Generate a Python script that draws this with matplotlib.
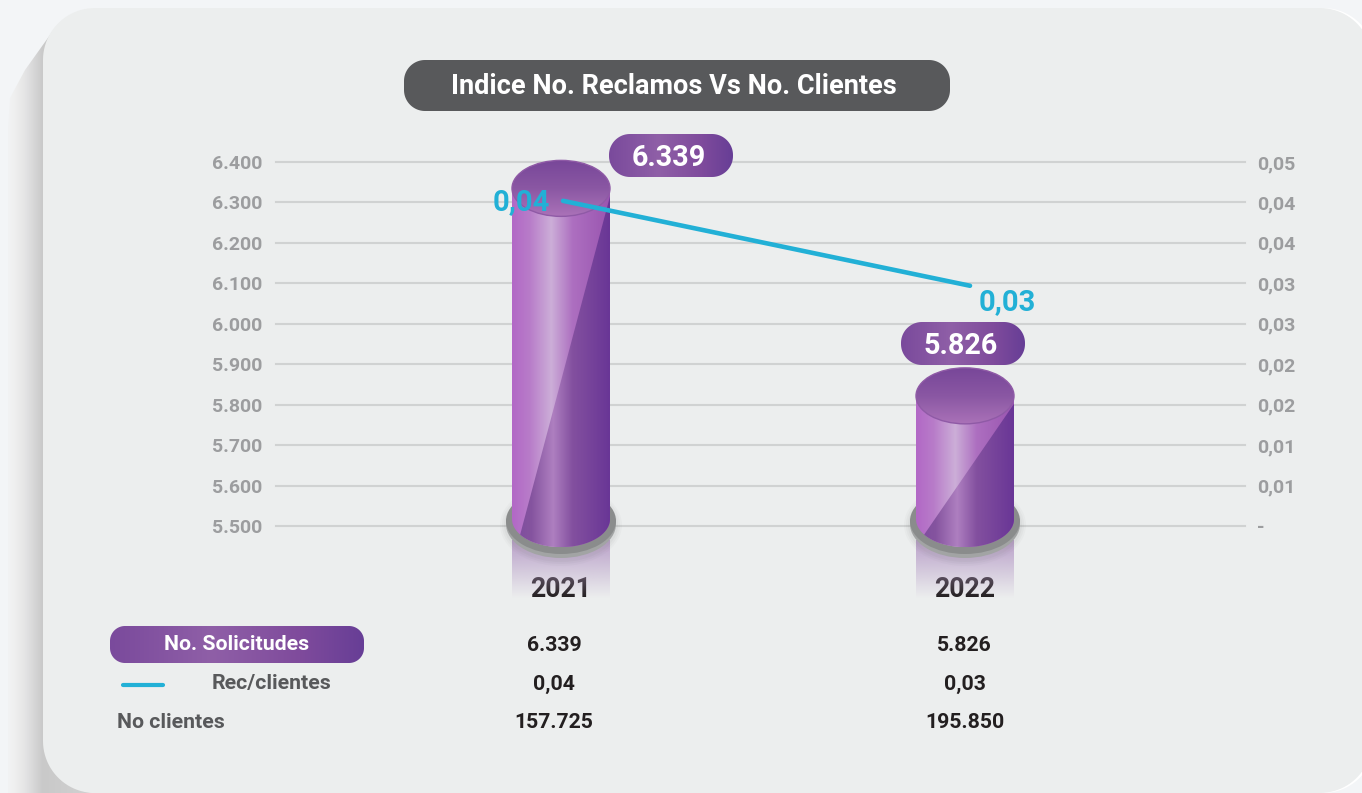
import numpy as np
import matplotlib
matplotlib.use("Agg")
import matplotlib.pyplot as plt
from matplotlib.patches import Ellipse, PathPatch
from matplotlib.path import Path
from matplotlib.colors import LinearSegmentedColormap, to_rgb

# ---------- data ----------
categories = ["2021", "2022"]
solicitudes = [6339, 5826]
rec_clientes = [0.0402, 0.0297]
no_clientes = [157725, 195850]
left_ticks = [5500, 5600, 5700, 5800, 5900, 6000, 6100, 6200, 6300, 6400]
right_ticks = [0, 0.005, 0.01, 0.015, 0.02, 0.025, 0.03, 0.035, 0.04, 0.045]
right_labels = ["-", "0,01", "0,01", "0,02", "0,02", "0,03", "0,03", "0,04", "0,04", "0,05"]
title = "Indice No. Reclamos Vs No. Clientes"
row_labels = ["No. Solicitudes", "Rec/clientes", "No clientes"]

# ---------- style ----------
W, H = 1362, 793
plt.rcParams["font.family"] = ["Roboto", "DejaVu Sans"]
plt.rcParams["font.weight"] = "bold"
BG, CARD = "#f3f5f7", "#eceeee"
GRID, TICK = "#d0d2d2", "#9c9d9f"
DARK, GREY, CYAN = "#231f20", "#58595b", "#22b0d6"
PX, PY = 404.0, 364.0 / 900.0   # pixels per x unit / per y unit


def thousands(v):
    return f"{v:,}".replace(",", ".")


def comma2(v):
    return f"{v:.2f}".replace(".", ",")


def hgrad(stops):
    cmap = LinearSegmentedColormap.from_list("g", stops)
    return cmap(np.linspace(0, 1, 256))[None, :, :3]


def vgrad(stops):
    cmap = LinearSegmentedColormap.from_list("g", stops)
    return cmap(np.linspace(0, 1, 256))[:, None, :3]


def rounded(x0, y0, x1, y1, r):
    """Closed rounded-rectangle path with true circular corners (y grows downward)."""
    pts = []
    for cx, cy, a0 in ((x1 - r, y0 + r, -90), (x1 - r, y1 - r, 0), (x0 + r, y1 - r, 90), (x0 + r, y0 + r, 180)):
        t = np.radians(np.linspace(a0, a0 + 90, 24))
        pts += list(zip(cx + r * np.cos(t), cy + r * np.sin(t)))
    pts.append(pts[0])
    return Path(pts, [Path.MOVETO] + [Path.LINETO] * (len(pts) - 2) + [Path.CLOSEPOLY])


fig = plt.figure(figsize=(W / 100, H / 100), dpi=100, facecolor=BG)


def pixel_axes(z):
    a = fig.add_axes([0, 0, 1, 1], zorder=z)
    a.set_xlim(0, W)
    a.set_ylim(H, 0)
    a.axis("off")
    a.patch.set_alpha(0)
    return a


# ---------- card background ----------
bg = pixel_axes(0)
shadow_path = Path([(55, 28), (25, 70), (10, 98), (8, 130), (8, 800), (110, 800), (110, 28), (55, 28)],
                   [Path.MOVETO, Path.LINETO, Path.LINETO, Path.LINETO,
                    Path.LINETO, Path.LINETO, Path.LINETO, Path.CLOSEPOLY])
sh = bg.imshow(hgrad([(0, "#f2f3f4"), (0.07, "#efefef"), (0.17, "#e4e4e5"), (0.34, "#c9c9c9"), (1, "#d4d4d4")]),
               extent=(8, 110, 800, 0), aspect="auto", zorder=1)
sp = PathPatch(shadow_path, transform=bg.transData, fc="none", ec="none")
bg.add_patch(sp)
sh.set_clip_path(sp)
bg.add_patch(PathPatch(rounded(46, 8, 1375, 793, 52), fc="white", ec="none", zorder=2))
bg.add_patch(PathPatch(rounded(43, 8, 1372, 793, 52), fc=CARD, ec="none", zorder=3))
bg.set_xlim(0, W)
bg.set_ylim(H, 0)

# ---------- main axes ----------
L, R, T, B = 276, 1245, 162, 526
pos = [L / W, 1 - B / H, (R - L) / W, (B - T) / H]
ax = fig.add_axes(pos, zorder=1)
ax.patch.set_alpha(0)
for s in ax.spines.values():
    s.set_visible(False)
xlim = ((L - 561) / PX, (R - 561) / PX)
ylim = (left_ticks[0], left_ticks[-1])
half = 49 / PX
ell_b = 28 / PY
cap_drop = 1.7 / PY
x_pos = np.arange(len(categories))
body_y0 = 5517

LIGHT = hgrad([(0, "#b268c6"), (0.18, "#b87cc9"), (0.40, "#ccaed8"), (0.62, "#ad6fc0"), (1, "#9a55b0")])
SHADE = hgrad([(0, "#7c4b9e"), (0.20, "#85549f"), (0.42, "#ae7fc0"), (0.62, "#83509f"), (1, "#693696")])
TOPG = vgrad([(0, "#784799"), (0.5, "#8a57a3"), (1, "#aa72b8")])

for i, v in zip(x_pos, solicitudes):
    xl, xr = i - half, i + half
    vt = v - cap_drop
    # reflection under the base
    rgba = np.zeros((128, 1, 4))
    rgba[..., :3] = to_rgb("#b9a0c9")
    rgba[..., 3] = np.linspace(1, 0, 128)[:, None]
    ax.imshow(rgba, extent=(xl, xr, 5500 - 72 / PY, 5500 - 14 / PY), aspect="auto", zorder=2.0, clip_on=False)
    # soft shadow + metal base
    for k, a in zip((6, 4, 2), (0.04, 0.05, 0.06)):
        ax.add_patch(Ellipse((i, 5500 + 1 / PY), 2 * (55 + k) / PX, 2 * (35 + k) / PY, fc="#777777",
                             ec="none", alpha=a, zorder=2.1, clip_on=False))
    ax.add_patch(Ellipse((i, 5500 + 2 / PY), 110 / PX, 68 / PY, fc="#a2a4a4", ec="none", zorder=2.2, clip_on=False))
    ax.add_patch(Ellipse((i, 5500 + 5 / PY), 110 / PX, 66 / PY, fc="#8a8c8c", ec="none", zorder=2.3, clip_on=False))
    # body
    th = np.linspace(np.pi, 2 * np.pi, 60)
    ex, ey = i + half * np.cos(th), body_y0 + ell_b * np.sin(th)
    verts = [(xl, vt)] + list(zip(ex, ey)) + [(xr, vt), (xl, vt)]
    codes = [Path.MOVETO] + [Path.LINETO] * (len(verts) - 2) + [Path.CLOSEPOLY]
    body = PathPatch(Path(verts, codes), transform=ax.transData, fc="none", ec="none")
    ax.add_patch(body)
    im = ax.imshow(LIGHT, extent=(xl, xr, body_y0 - ell_b, vt), aspect="auto", zorder=2.4)
    im.set_clip_box(fig.bbox)
    im.set_clip_path(body)
    # darker facet right of the diagonal reflection
    th2 = th[th > np.pi + 0.55]
    dx, dy = i + half * np.cos(th2), body_y0 + ell_b * np.sin(th2)
    v2 = [(dx[0], dy[0]), (xr, vt - 8 / PY)] + list(zip(dx[::-1], dy[::-1]))
    v2 = v2 + [v2[0]]
    c2 = [Path.MOVETO] + [Path.LINETO] * (len(v2) - 2) + [Path.CLOSEPOLY]
    facet = PathPatch(Path(v2, c2), transform=ax.transData, fc="none", ec="none")
    ax.add_patch(facet)
    im2 = ax.imshow(SHADE, extent=(xl, xr, body_y0 - ell_b, vt), aspect="auto", zorder=2.5)
    im2.set_clip_box(fig.bbox)
    im2.set_clip_path(facet)
    # top ellipse
    top = Ellipse((i, vt), 2 * half, 2 * ell_b, transform=ax.transData, fc="none", ec="none")
    ax.add_patch(top)
    im3 = ax.imshow(TOPG, extent=(xl, xr, vt - ell_b, vt + ell_b), aspect="auto", zorder=2.6)
    im3.set_clip_box(fig.bbox)
    im3.set_clip_path(top)
    ax.add_patch(Ellipse((i, vt), 2 * half, 2 * ell_b, fc="none", ec="#8f5aa6", lw=1.0, zorder=2.7, clip_on=False))

ax.set_xlim(*xlim)
ax.set_ylim(*ylim)
ax.set_yticks(left_ticks, [thousands(t) for t in left_ticks])
ax.set_xticks(x_pos, categories)
ax.grid(axis="y", color=GRID, lw=1.5, zorder=0)
ax.grid(axis="x", visible=False)
ax.set_axisbelow(True)
for g in ax.get_ygridlines():
    g.set_clip_on(False)
ax.tick_params(axis="y", length=0, pad=10, labelsize=14, labelcolor=TICK)
ax.tick_params(axis="x", length=0, pad=36, labelsize=19.2, labelcolor=DARK)

# ---------- secondary axis with the ratio line ----------
ax2 = fig.add_axes(pos, zorder=2)
ax2.patch.set_alpha(0)
for s in ax2.spines.values():
    s.set_visible(False)
ax2.set_xlim((L - 563) / 407, (R - 563) / 407)
ax2.set_ylim(right_ticks[0], right_ticks[-1])
ax2.plot(x_pos, rec_clientes, color=CYAN, lw=3.3, solid_capstyle="round", zorder=5)
ax2.set_xticks([])
ax2.yaxis.tick_right()
ax2.set_yticks(right_ticks, right_labels)
ax2.tick_params(axis="y", length=0, pad=9, labelsize=14, labelcolor=TICK)
offsets = [(-30, -1), (27, -12)]
for i, r, off in zip(x_pos, rec_clientes, offsets):
    ax2.annotate(comma2(r), (i, r), xytext=off, textcoords="offset points", ha="center", va="center",
                 color=CYAN, fontsize=21, fontweight="bold", zorder=6)

# ---------- pills and table ----------
ov = pixel_axes(3)
PILL = hgrad([(0, "#7a4a9c"), (0.40, "#8f5fa7"), (0.75, "#7f4b9c"), (1, "#673e96")])


def pill(x0, y0, x1, y1, r):
    p = PathPatch(rounded(x0, y0, x1, y1, r), fc="none", ec="none", transform=ov.transData)
    ov.add_patch(p)
    im = ov.imshow(PILL, extent=(x0, x1, y1, y0), aspect="auto", zorder=2)
    im.set_clip_path(p)


ov.add_patch(PathPatch(rounded(404, 60, 950, 111, 21), fc=GREY, ec="none"))
ov.text(673.5, 87, title, color="white", fontsize=19.5, ha="center", va="center")

pill(609, 134, 733, 177, 21)
pill(901, 322, 1025, 365, 21)
ov.text(669, 158, thousands(solicitudes[0]), color="white", fontsize=20.7, ha="center", va="center")
ov.text(960.5, 346, thousands(solicitudes[1]), color="white", fontsize=20.7, ha="center", va="center")

pill(110, 626, 364, 663, 15)
TS = 15.3
ov.text(237, 645, row_labels[0], color="white", fontsize=TS, ha="center", va="center")
ov.plot([122.5, 162.5], [685, 685], color=CYAN, lw=3.0, solid_capstyle="round")
ov.text(271.5, 684, row_labels[1], color=GREY, fontsize=TS, ha="center", va="center")
ov.text(170.5, 723, row_labels[2], color=GREY, fontsize=TS, ha="center", va="center")

for cx, s, r, c in zip((554, 964.5), solicitudes, rec_clientes, no_clientes):
    ov.text(cx, 645.5, thousands(s), color=DARK, fontsize=TS, ha="center", va="center")
    ov.text(cx, 684, comma2(r), color=DARK, fontsize=TS, ha="center", va="center")
    ov.text(cx, 722, thousands(c), color=DARK, fontsize=TS, ha="center", va="center")
ov.set_xlim(0, W)
ov.set_ylim(H, 0)

fig.savefig("out.png", dpi=100, facecolor=BG)
